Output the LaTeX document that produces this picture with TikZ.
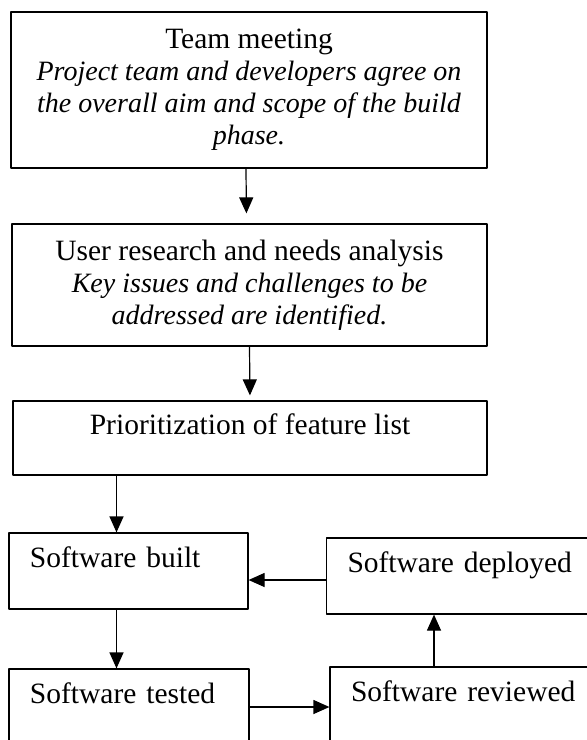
\documentclass[tikz,border=0pt]{standalone}
\usepackage{fontspec}
\setmainfont{Liberation Serif}
\usetikzlibrary{arrows.meta,positioning}

\newcommand{\desc}[1]{{\fontsize{28}{32}\selectfont\itshape #1}}

\begin{document}
\begin{tikzpicture}[x=1pt,y=1pt,line join=round,line cap=round,
	box/.style={draw,line width=1.2pt,inner sep=0pt,font=\fontsize{29.5}{32}\selectfont},
	bigbox/.style={box,align=center},
	smallbox/.style={box,minimum height=76pt,text height=16pt,text depth=24pt},
	leftbox/.style={smallbox,inner xsep=21pt,align=left},
	arr/.style={line width=1.2pt,-{Triangle[length=16pt,width=14pt]}}]
		\useasboundingbox (0,0) rectangle (587,-740);
		\node[bigbox,line width=2.4pt,minimum width=476pt,minimum height=156pt] (team) at (249,-90) {Team meeting\\\desc{Project team and developers agree on}\\\desc{the overall aim and scope of the build}\\\desc{phase.}};
		\node[bigbox,minimum width=475pt,minimum height=122pt] (user) at (249.5,-285) {User research and needs analysis\\\desc{Key issues and challenges to be}\\\desc{addressed are identified.}};
		\node[smallbox,minimum width=474pt,minimum height=74pt] (prio) at (250,-438) {Prioritization of feature list};
		\node[leftbox,text width=197pt] (built) at (128.5,-571) {Software built};
		\node[leftbox,text width=231pt] (deployed) at (463,-576) {Software deployed};
		\node[leftbox,text width=198pt] (tested) at (129,-707) {Software tested};
		\node[leftbox,text width=228pt] (reviewed) at (465,-705) {Software reviewed};
		\draw[arr,shorten >=10pt] ([xshift=-3pt]team.south) -- ([xshift=-3pt]user.north);
		\draw[arr,shorten >=5pt] (user.south) -- (prio.north);
		\draw[arr] ([xshift=-12pt]built.north |- prio.south) -- ([xshift=-12pt]built.north);
		\draw[arr] ([xshift=-12pt]built.south) -- ([xshift=-12pt]built.south |- tested.north);
		\draw[arr] ([yshift=-4pt]deployed.west) -- ([yshift=-4pt]deployed.west -| built.east);
		\draw[arr] (tested.east) -- (tested.east -| reviewed.west);
		\draw[arr] ([xshift=-31pt]reviewed.north) -- ([xshift=-31pt]reviewed.north |- deployed.south);
\end{tikzpicture}
\end{document}
